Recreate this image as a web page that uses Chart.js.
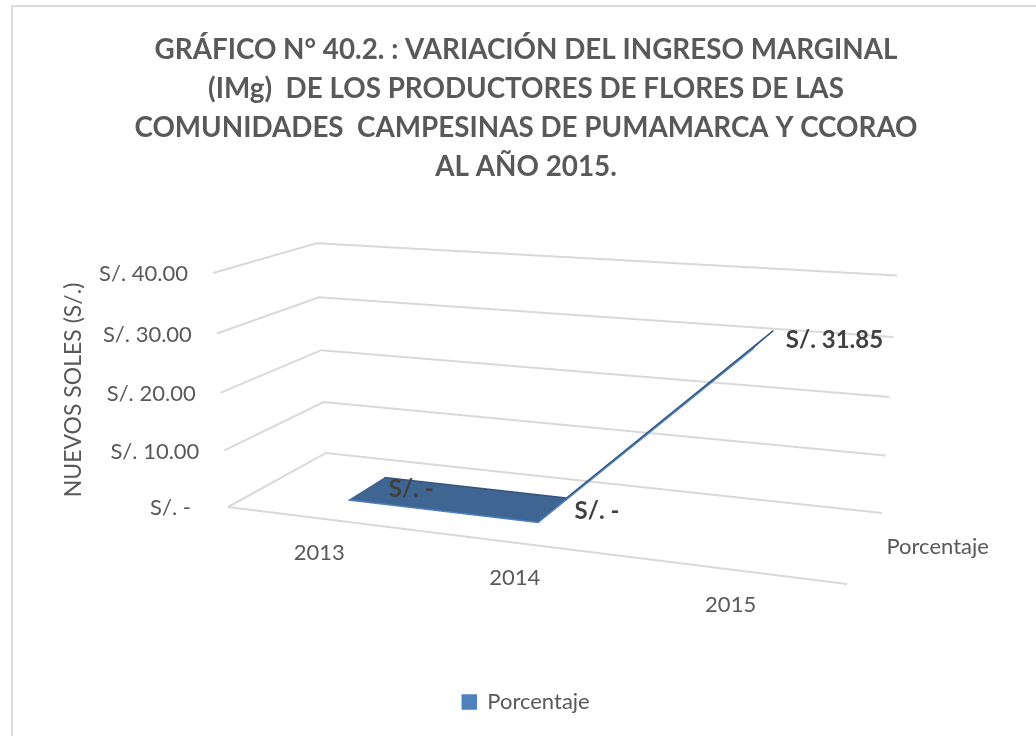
<!DOCTYPE html>
<html>
<head>
<meta charset="utf-8">
<style>
  html, body { margin: 0; padding: 0; background: #fff; }
  canvas { display: block; }
</style>
<script src="https://cdn.jsdelivr.net/npm/chart.js@4"></script>
</head>
<body>
<canvas id="chart" width="1036" height="736"></canvas>
<script>
// ── Data ─────────────────────────────────────────────────────────
const YEARS = ['2013', '2014', '2015'];
const INGRESO = [0, 0, 31.85];
const SERIES_NAME = 'Porcentaje';
const TITLE_LINES = [
    'GRÁFICO N° 40.2. : VARIACIÓN DEL INGRESO MARGINAL',
    '(IMg)  DE LOS PRODUCTORES DE FLORES DE LAS',
    'COMUNIDADES  CAMPESINAS DE PUMAMARCA Y CCORAO',
    'AL AÑO 2015.'
];
const Y_TITLE = 'NUEVOS SOLES (S/.)';

// ── 3D look: camera fitted to the reference, ribbon depth ────────
const CAM = {
    x: [503.5, -24.3, 137.7, 228],
    y: [-2.7, -245.9, 1.2, 507],
    w: [-0.1364, -0.0436, 0.1219, 1]
};
const RIBBON_FRONT = 0.3, RIBBON_BACK = 0.7;
const FONT = 'Lato, sans-serif';
const GRID_COLOR = '#d9d9d9';
const TEXT_COLOR = '#595959';

function project(u, v, d) {
    const dot = r => r[0] * u + r[1] * v + r[2] * d + r[3];
    const w = dot(CAM.w);
    return { x: dot(CAM.x) / w, y: dot(CAM.y) / w };
}

// scale pixels -> 0..1 box coordinates
function toBox(chart, px, py) {
    const a = chart.chartArea;
    return { u: (px - a.left) / (a.right - a.left), v: (a.bottom - py) / (a.bottom - a.top) };
}

function line(ctx, pts) {
    ctx.beginPath();
    pts.forEach((p, i) => i ? ctx.lineTo(p.x, p.y) : ctx.moveTo(p.x, p.y));
    ctx.stroke();
}

function formatSoles(val) {
    return val === 0 ? 'S/. -' : 'S/. ' + val.toFixed(2);
}

const perspective = {
    id: 'perspective',
    // move the points the library placed into the tilted box
    afterDatasetsUpdate(chart) {
        chart.data.datasets.forEach((ds, i) => {
            chart.getDatasetMeta(i).data.forEach(pt => {
                const b = toBox(chart, pt.x, pt.y);
                const p = project(b.u, b.v, ds.depth);
                pt.x = p.x;
                pt.y = p.y;
            });
        });
    },
    beforeDatasetsDraw(chart) {
        const ctx = chart.ctx, yScale = chart.scales.y;
        ctx.save();
        ctx.strokeStyle = GRID_COLOR;
        ctx.lineWidth = 2;
        yScale.ticks.forEach(t => {
            const v = toBox(chart, 0, yScale.getPixelForValue(t.value)).v;
            line(ctx, [project(0, v, 0), project(0, v, 1), project(1, v, 1)]);
        });
        line(ctx, [project(0, 0, 0), project(1, 0, 0)]);

        // ribbon between the front and back edges
        const front = chart.getDatasetMeta(0).data, back = chart.getDatasetMeta(1).data;
        ctx.fillStyle = '#3f6592';
        ctx.beginPath();
        front.forEach((p, i) => i ? ctx.lineTo(p.x, p.y) : ctx.moveTo(p.x, p.y));
        [...back].reverse().forEach(p => ctx.lineTo(p.x, p.y));
        ctx.closePath();
        ctx.fill();
        ctx.restore();
    },
    afterDraw(chart) {
        const ctx = chart.ctx, yScale = chart.scales.y, xScale = chart.scales.x;
        ctx.save();
        ctx.textBaseline = 'middle';

        // value axis
        ctx.fillStyle = TEXT_COLOR;
        ctx.font = '22px ' + FONT;
        ctx.textAlign = 'right';
        yScale.ticks.forEach(t => {
            const v = toBox(chart, 0, yScale.getPixelForValue(t.value)).v;
            const p = project(0, v, 0);
            ctx.fillText(t.label, p.x - (t.value === 0 ? 37 : 25), p.y + 1);
        });

        // category axis
        ctx.textAlign = 'center';
        YEARS.forEach((yr, i) => {
            const u = toBox(chart, xScale.getPixelForValue(i), 0).u;
            const p = project(u, 0, 0);
            ctx.fillText(yr, p.x, p.y + 35);
        });

        // series axis
        const s = project(1, 0, 0.5);
        ctx.fillText(SERIES_NAME, s.x + 72, s.y + 1);

        // axis title
        ctx.save();
        ctx.font = '23px ' + FONT;
        ctx.translate(74, 390);
        ctx.rotate(-Math.PI / 2);
        ctx.fillText(Y_TITLE, 0, 0);
        ctx.restore();

        // data labels, ribbon centre
        ctx.fillStyle = '#404040';
        ctx.font = 'bold 24px ' + FONT;
        ctx.textAlign = 'left';
        INGRESO.forEach((val, i) => {
            const b = toBox(chart, xScale.getPixelForValue(i), yScale.getPixelForValue(val));
            const p = project(b.u, b.v, (RIBBON_FRONT + RIBBON_BACK) / 2);
            ctx.fillText(formatSoles(val), p.x + 22, p.y + 1);
        });

        // chart frame, right and bottom sides are cut off by the picture
        ctx.strokeStyle = '#dcdcdc';
        ctx.lineWidth = 2;
        line(ctx, [{ x: 12, y: 736 }, { x: 12, y: 6 }, { x: 1036, y: 6 }]);
        ctx.restore();
    }
};

new Chart(document.getElementById('chart'), {
    type: 'line',
    data: {
        labels: YEARS,
        datasets: [
            { label: SERIES_NAME, data: INGRESO, depth: RIBBON_FRONT, borderColor: '#4f81bd', backgroundColor: '#4f81bd', borderWidth: 1.5, pointRadius: 0, tension: 0, clip: false },
            { label: 'back', data: INGRESO, depth: RIBBON_BACK, borderColor: '#34557d', backgroundColor: '#34557d', borderWidth: 1.5, pointRadius: 0, tension: 0, clip: false }
        ]
    },
    plugins: [perspective],
    options: {
        responsive: false,
        animation: false,
        layout: { padding: { left: 56, right: 40, top: 0, bottom: 13 } },
        events: [],
        plugins: {
            tooltip: { enabled: false },
            title: {
                display: true,
                text: TITLE_LINES,
                color: TEXT_COLOR,
                font: { family: FONT, size: 27.8, weight: 'bold', lineHeight: 1.4 },
                padding: { top: 31, bottom: 10 }
            },
            legend: {
                position: 'bottom',
                labels: {
                    color: TEXT_COLOR,
                    font: { family: FONT, size: 22 },
                    boxWidth: 14,
                    boxHeight: 14,
                    filter: item => item.datasetIndex === 0
                }
            }
        },
        scales: {
            x: { display: false, offset: true },
            y: {
                display: false,
                min: 0,
                max: 40,
                ticks: { stepSize: 10, callback: formatSoles }
            }
        }
    }
});
</script>
</body>
</html>
